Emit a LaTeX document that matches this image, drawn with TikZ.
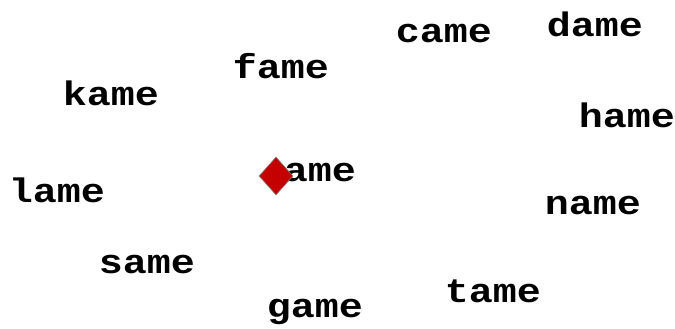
\documentclass[tikz,border=0pt]{standalone}
\usepackage{fontspec}
\setmonofont{Liberation Mono}
\usetikzlibrary{shapes.geometric}
\definecolor{diamondred}{HTML}{C40000}
\newcommand{\wordtext}[1]{\scalebox{1}[0.85]{#1}}
\begin{document}
\begin{tikzpicture}[x=1pt, y=-1pt, word/.style={anchor=base, inner sep=0pt, font=\fontsize{40}{48}\selectfont\ttfamily\bfseries}]
    \useasboundingbox (0,0) rectangle (675,329);

    % Centre word and its marker
    \node[word] (centre) at (320,181) {\wordtext{ame}};
    \node[diamond, draw=gray, fill=diamondred, line width=0.6pt, aspect=0.9, minimum width=34pt, minimum height=38pt, inner sep=0pt] (marker) at (276,176) {};

    % Words round the centre
    \node[word] (came) at (444,43) {\wordtext{came}};
    \node[word] (dame) at (595,37) {\wordtext{dame}};
    \node[word] (fame) at (281,78) {\wordtext{fame}};
    \node[word] (kame) at (111,106) {\wordtext{kame}};
    \node[word] (hame) at (627,128) {\wordtext{hame}};
    \node[word] (lame) at (57,202) {\wordtext{lame}};
    \node[word] (name) at (593,214) {\wordtext{name}};
    \node[word] (same) at (147,273) {\wordtext{same}};
    \node[word] (tame) at (493,302) {\wordtext{tame}};
    \node[word] (game) at (315,317) {\wordtext{game}};
\end{tikzpicture}
\end{document}
